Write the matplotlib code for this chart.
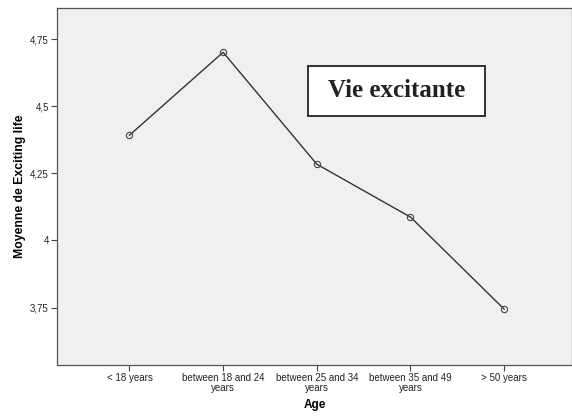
import matplotlib.pyplot as plt
from matplotlib.patches import Rectangle

age_groups = ["< 18 years", "between 18 and 24\nyears", "between 25 and 34\nyears",
              "between 35 and 49\nyears", "> 50 years"]
mean_exciting = [4.392, 4.701, 4.284, 4.087, 3.744]
y_ticks = [3.75, 4.0, 4.25, 4.5, 4.75]
y_tick_labels = ["3,75", "4", "4,25", "4,5", "4,75"]


def main():
    plt.rcParams["font.family"] = ["Liberation Sans", "DejaVu Sans"]
    fig = plt.figure(figsize=(5.72, 4.16), dpi=100)
    ax = fig.add_axes([0.0997, 0.1226, 0.9003, 0.8582])
    ax.set_facecolor("#f0f0f2")

    x = list(range(len(age_groups)))
    ax.plot(x, mean_exciting, color="#333333", linewidth=1.0, marker="o",
            markersize=4.5, markerfacecolor="none", markeredgecolor="#444444",
            markeredgewidth=0.8)

    ax.set_xlim(-0.773, 4.724)
    ax.set_ylim(3.536, 4.866)
    ax.set_xticks(x)
    ax.set_xticklabels(age_groups, fontsize=7, linespacing=0.9)
    ax.set_yticks(y_ticks)
    ax.set_yticklabels(y_tick_labels, fontsize=7)
    ax.tick_params(direction="out", length=4, width=0.8, color="#444444",
                   labelcolor="#222222", pad=2)

    for side in ["left", "bottom", "top", "right"]:
        ax.spines[side].set_color("#555555")
        ax.spines[side].set_linewidth(0.9)

    ax.set_xlabel("Age", fontsize=8.5, fontweight="bold", labelpad=5)
    ax.set_ylabel("Moyenne de Exciting life", fontsize=8.8, fontweight="bold",
                  labelpad=3)

    # title box inside the plot
    ax.add_patch(Rectangle((0.4864, 0.6975), 0.3443, 0.14,
                           transform=ax.transAxes, facecolor="white",
                           edgecolor="#222222", linewidth=1.3, zorder=3))
    ax.text(0.6586, 0.7675, "Vie excitante", transform=ax.transAxes,
            fontsize=18, fontweight="bold", family=["Liberation Serif"],
            ha="center", va="center", color="#222222", zorder=4)

    fig.savefig("out.png", dpi=100)


main()
